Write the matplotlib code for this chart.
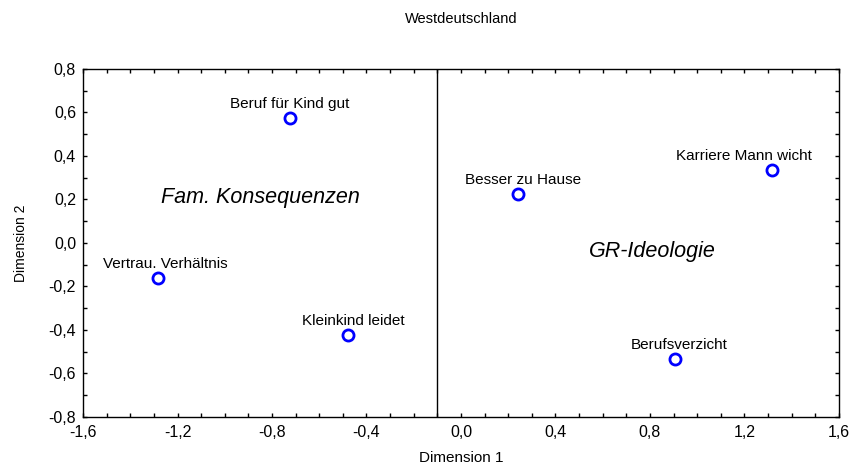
import matplotlib
matplotlib.use("Agg")
import matplotlib.pyplot as plt
from matplotlib.ticker import MultipleLocator, FuncFormatter

plt.rcParams['font.family'] = ['Liberation Sans', 'DejaVu Sans']

# Koordinaten der Items (Dimension 1, Dimension 2)
items = ["Beruf für Kind gut", "Vertrau. Verhältnis", "Kleinkind leidet",
         "Besser zu Hause", "Karriere Mann wicht", "Berufsverzicht"]
dim1 = [-0.724, -1.283, -0.478, 0.241, 1.316, 0.906]
dim2 = [0.575, -0.161, -0.423, 0.225, 0.336, -0.533]
# horizontal label shift in points
label_dx = [0, 5, 4, 4, -20, 3]

cluster_names = ["Fam. Konsequenzen", "GR-Ideologie"]
cluster_x = [-0.85, 0.81]
cluster_y = [0.21, -0.04]
divider_x = -0.1

fig = plt.figure(figsize=(8.54, 4.70), dpi=100)
ax = fig.add_axes([0.0972, 0.1128, 0.8852, 0.7404])

ax.plot(dim1, dim2, linestyle="none", marker="o", markersize=8,
        markerfacecolor="white", markeredgecolor="#0000ff", markeredgewidth=2)

for name, x, y, dx in zip(items, dim1, dim2, label_dx):
    ax.annotate(name, (x, y), xytext=(dx, 5), textcoords="offset points",
                ha="center", va="bottom", fontsize=11)

for name, x, y in zip(cluster_names, cluster_x, cluster_y):
    ax.text(x, y, name, ha="center", va="center", fontsize=15.5, style="italic")

ax.axvline(divider_x, color="black", linewidth=1)

ax.set_xlim(-1.6, 1.6)
ax.set_ylim(-0.8, 0.8)
ax.xaxis.set_major_locator(MultipleLocator(0.4))
ax.xaxis.set_minor_locator(MultipleLocator(0.1))
ax.yaxis.set_major_locator(MultipleLocator(0.2))
ax.yaxis.set_minor_locator(MultipleLocator(0.1))
fmt = FuncFormatter(lambda v, p: f"{v:.1f}".replace(".", ",").replace("-0,0", "0,0"))
ax.xaxis.set_major_formatter(fmt)
ax.yaxis.set_major_formatter(fmt)
ax.tick_params(which="both", direction="in", top=True, right=True,
               length=3, width=1, labelsize=11.5)
ax.tick_params(axis="x", pad=6)
ax.tick_params(axis="y", pad=5)

for s in ax.spines.values():
    s.set_linewidth(1)

ax.set_xlabel("Dimension 1", fontsize=11, labelpad=8)
ax.set_ylabel("Dimension 2", fontsize=10, labelpad=15)
fig.text(0.54, 0.96, "Westdeutschland", ha="center", va="center", fontsize=10.5)

fig.savefig("out.png", dpi=100)
